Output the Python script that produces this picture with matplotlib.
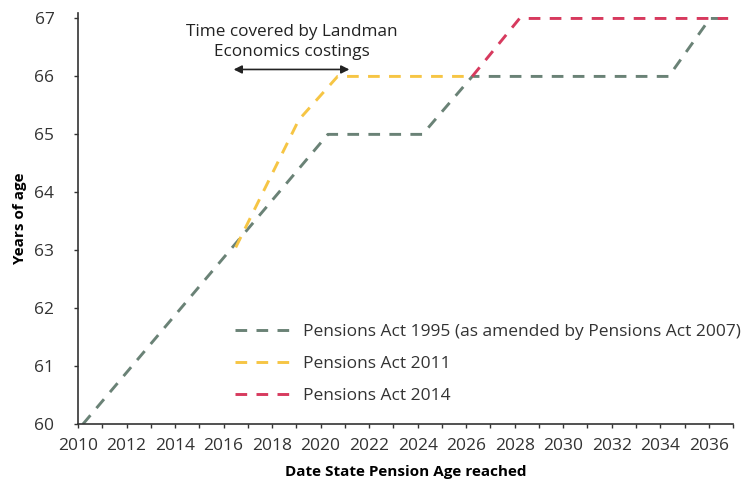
import numpy as np
import matplotlib
matplotlib.use("Agg")
import matplotlib.pyplot as plt

plt.rcParams['font.family'] = ['Open Sans', 'DejaVu Sans']

# Pensions Act 1995 (as amended by Pensions Act 2007)
act1995_year = [2010.2, 2020.3, 2024.2, 2026.25, 2034.35, 2036.05, 2036.8]
act1995_age = [60, 65, 65, 66, 66, 67, 67]

# Pensions Act 2011
act2011_year = [2016.5, 2019.1, 2020.7, 2026.3]
act2011_age = [63.05, 65.25, 66, 66]

# Pensions Act 2014
act2014_year = [2026.25, 2028.2, 2036.8]
act2014_age = [66, 67, 67]

labels = ['Pensions Act 1995 (as amended by Pensions Act 2007)',
          'Pensions Act 2011', 'Pensions Act 2014']
colors = ['#6a8276', '#f6c544', '#d73a5e']

fig = plt.figure(figsize=(7.46, 4.87), dpi=100)
ax = fig.add_axes([0.1046, 0.129, 0.878, 0.845])

dash = (0, (4, 3.2))
ax.plot(act1995_year, act1995_age, color=colors[0], lw=2.1, linestyle=dash, label=labels[0])
ax.plot(act2011_year, act2011_age, color=colors[1], lw=2.1, linestyle=dash, label=labels[1])
ax.plot(act2014_year, act2014_age, color=colors[2], lw=2.1, linestyle=dash, label=labels[2])

ax.set_xlim(2010, 2037)
ax.set_ylim(60, 67.1)
ax.set_xticks(np.arange(2010, 2037, 2))
ax.set_xticks(np.arange(2010, 2038, 1), minor=True)
ax.set_yticks(np.arange(60, 68, 1))

for s in ['top', 'right']:
    ax.spines[s].set_visible(False)
for s in ['left', 'bottom']:
    ax.spines[s].set_color('#333333')
    ax.spines[s].set_linewidth(1.2)

ax.tick_params(axis='both', which='both', direction='out', length=3, width=1,
               color='#333333', labelsize=12.5, labelcolor='#333333')
ax.tick_params(axis='x', pad=7)
ax.tick_params(axis='y', pad=14)

ax.set_xlabel('Date State Pension Age reached', fontsize=11, fontweight='bold', labelpad=8)
ax.set_ylabel('Years of age', fontsize=11, fontweight='bold', labelpad=5)

# annotation arrow
ax.annotate('', xy=(2016.3, 66.12), xytext=(2021.3, 66.12),
            arrowprops=dict(arrowstyle='<|-|>', color='#222222', lw=1.2,
                            mutation_scale=12))
ax.text(2018.8, 66.6, 'Time covered by Landman\nEconomics costings',
        ha='center', va='center', fontsize=12.3, color='#222222', linespacing=1.35)

leg = ax.legend(loc='lower left', bbox_to_anchor=(0.24, 0.05), frameon=False,
                borderaxespad=0, borderpad=0,
                fontsize=12.5, handlelength=3.2, handletextpad=0.7, labelspacing=0.9)
for t in leg.get_texts():
    t.set_color('#333333')

fig.savefig('out.png', dpi=100)
